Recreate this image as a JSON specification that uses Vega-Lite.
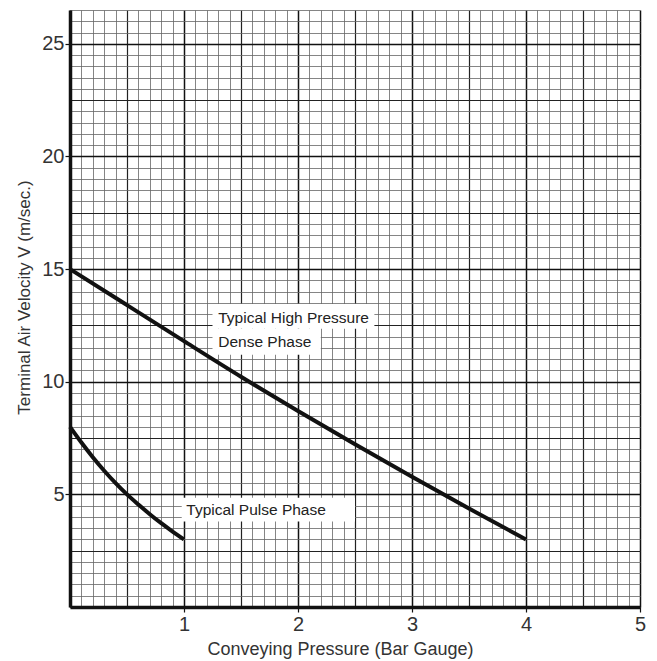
{
  "$schema": "https://vega.github.io/schema/vega-lite/v6.json",
  "width": 570,
  "height": 597,
  "autosize": {"type": "none"},
  "padding": {"left": 70, "top": 10, "right": 17, "bottom": 54},
  "background": "white",
  "config": {"view": {"stroke": null}, "font": "Liberation Sans"},
  "datasets": {
    "curves": [
      {"series": "high", "p": 0, "v": 15.0},
      {"series": "high", "p": 0.5, "v": 13.4},
      {"series": "high", "p": 1, "v": 11.8},
      {"series": "high", "p": 1.5, "v": 10.22},
      {"series": "high", "p": 2, "v": 8.7},
      {"series": "high", "p": 2.5, "v": 7.22},
      {"series": "high", "p": 3, "v": 5.78},
      {"series": "high", "p": 3.5, "v": 4.37},
      {"series": "high", "p": 4, "v": 3.0},
      {"series": "pulse", "p": 0, "v": 8.0},
      {"series": "pulse", "p": 0.1, "v": 7.3},
      {"series": "pulse", "p": 0.2, "v": 6.65},
      {"series": "pulse", "p": 0.3, "v": 6.05},
      {"series": "pulse", "p": 0.4, "v": 5.5},
      {"series": "pulse", "p": 0.5, "v": 5.0},
      {"series": "pulse", "p": 0.6, "v": 4.55},
      {"series": "pulse", "p": 0.7, "v": 4.12},
      {"series": "pulse", "p": 0.8, "v": 3.72},
      {"series": "pulse", "p": 0.9, "v": 3.35},
      {"series": "pulse", "p": 1, "v": 3.0}
    ],
    "boxes": [
      {"p": 1.25, "p2": 2.67, "v": 12.35, "v2": 13.45},
      {"p": 1.25, "p2": 2.2, "v": 11.2, "v2": 12.35},
      {"p": 0.98, "p2": 2.5, "v": 3.8, "v2": 4.85}
    ],
    "labels": [
      {"p": 1.3, "v": 12.85, "text": "Typical High Pressure"},
      {"p": 1.3, "v": 11.78, "text": "Dense Phase"},
      {"p": 1.02, "v": 4.31, "text": "Typical Pulse Phase"}
    ]
  },
  "encoding": {
    "x": {"field": "p", "type": "quantitative", "scale": {"domain": [0, 5], "nice": false},
      "axis": {
        "values": [0,0.1,0.2,0.3,0.4,0.5,0.6,0.7,0.8,0.9,1,1.1,1.2,1.3,1.4,1.5,1.6,1.7,1.8,1.9,2,2.1,2.2,2.3,2.4,2.5,2.6,2.7,2.8,2.9,3,3.1,3.2,3.3,3.4,3.5,3.6,3.7,3.8,3.9,4,4.1,4.2,4.3,4.4,4.5,4.6,4.7,4.8,4.9,5],
        "tickCount": 500,
        "grid": true,
        "gridColor": {"condition": [
          {"test": "abs(datum.value - round(datum.value)) < 0.01", "value": "#111"},
          {"test": "abs(datum.value*2 - round(datum.value*2)) < 0.01", "value": "#222"}
        ], "value": "#666"},
        "gridWidth": {"condition": [
          {"test": "abs(datum.value - round(datum.value)) < 0.01", "value": 1.5},
          {"test": "abs(datum.value*2 - round(datum.value*2)) < 0.01", "value": 1.2}
        ], "value": 0.8},
        "gridOpacity": 1,
        "domain": true, "domainColor": "#111", "domainWidth": 3.5,
        "ticks": true, "tickSize": 5, "tickWidth": 1.2,
        "tickColor": {"condition": {"test": "abs(datum.value - round(datum.value)) < 0.01 && datum.value > 0", "value": "#111"}, "value": "transparent"},
        "labelExpr": "(abs(datum.value - round(datum.value)) < 0.01 && datum.value > 0) ? format(datum.value, 'd') : ''",
        "labelFontSize": 20, "labelColor": "#333", "labelPadding": 2, "labelFlush": false, "labelOverlap": false,
        "title": "Conveying Pressure (Bar Gauge)", "titleFontSize": 18, "titleFontWeight": "normal", "titleColor": "#333", "titlePadding": 6, "titleX": 270
      }},
    "y": {"field": "v", "type": "quantitative", "scale": {"domain": [0, 26.5], "nice": false},
      "axis": {
        "values": [0,0.5,1,1.5,2,2.5,3,3.5,4,4.5,5,5.5,6,6.5,7,7.5,8,8.5,9,9.5,10,10.5,11,11.5,12,12.5,13,13.5,14,14.5,15,15.5,16,16.5,17,17.5,18,18.5,19,19.5,20,20.5,21,21.5,22,22.5,23,23.5,24,24.5,25,25.5,26,26.5],
        "tickCount": 500,
        "grid": true,
        "gridColor": {"condition": [
          {"test": "abs(datum.value/5 - round(datum.value/5)) < 0.01", "value": "#111"},
          {"test": "abs(datum.value/2.5 - round(datum.value/2.5)) < 0.01", "value": "#222"}
        ], "value": "#666"},
        "gridWidth": {"condition": [
          {"test": "abs(datum.value/5 - round(datum.value/5)) < 0.01", "value": 1.5},
          {"test": "abs(datum.value/2.5 - round(datum.value/2.5)) < 0.01", "value": 1.2}
        ], "value": 0.8},
        "gridOpacity": 1,
        "domain": true, "domainColor": "#111", "domainWidth": 3.5,
        "ticks": true, "tickSize": 5, "tickWidth": 1.2,
        "tickColor": {"condition": {"test": "abs(datum.value/5 - round(datum.value/5)) < 0.01 && datum.value > 0", "value": "#111"}, "value": "transparent"},
        "labelExpr": "(abs(datum.value/5 - round(datum.value/5)) < 0.01 && datum.value > 0) ? format(datum.value, 'd') : ''",
        "labelFontSize": 20, "labelColor": "#333", "labelPadding": 1, "labelFlush": false, "labelOverlap": false,
        "title": "Terminal Air Velocity V (m/sec.)", "titleFontSize": 17, "titleFontWeight": "normal", "titleColor": "#333", "titlePadding": 8, "titleY": 287
      }}
  },
  "layer": [
    {
      "data": {"name": "boxes"},
      "mark": {"type": "rect", "fill": "white"},
      "encoding": {
        "x2": {"field": "p2"},
        "y2": {"field": "v2"}
      }
    },
    {
      "data": {"name": "curves"},
      "mark": {"type": "line", "color": "#111", "strokeWidth": 4, "interpolate": "monotone", "strokeCap": "butt"},
      "encoding": {
        "detail": {"field": "series"}
      }
    },
    {
      "data": {"name": "labels"},
      "mark": {"type": "text", "align": "left", "baseline": "middle", "fontSize": 15.5, "color": "#222", "font": "Liberation Sans"},
      "encoding": {
        "text": {"field": "text"}
      }
    }
  ]
}
